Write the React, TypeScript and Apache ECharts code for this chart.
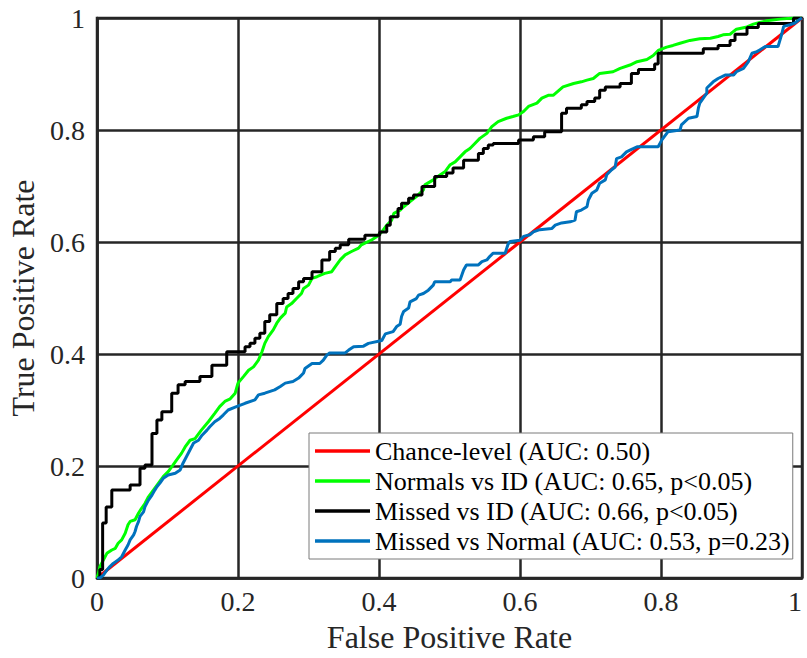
import React, { useEffect, useRef } from "react";
import * as echarts from "echarts";

// ROC curves: [false positive rate, true positive rate]
const chanceLevel: number[][] = [
  [0, 0],
  [1, 1],
];

const normalsVsId: number[][] = [
  [0, 0], [0.002, 0.008], [0.004, 0.02], [0.014, 0.044], [0.021, 0.05], [0.026, 0.053],
  [0.03, 0.062], [0.035, 0.068], [0.04, 0.08], [0.044, 0.095], [0.047, 0.101], [0.054, 0.104],
  [0.059, 0.116], [0.063, 0.124], [0.068, 0.133], [0.073, 0.145], [0.08, 0.157], [0.087, 0.169],
  [0.094, 0.181], [0.101, 0.19], [0.108, 0.202], [0.113, 0.211], [0.12, 0.223], [0.125, 0.234],
  [0.132, 0.246], [0.139, 0.249], [0.148, 0.264], [0.158, 0.279], [0.167, 0.294], [0.174, 0.306],
  [0.182, 0.316], [0.189, 0.32], [0.196, 0.33], [0.2, 0.348], [0.208, 0.36], [0.215, 0.371],
  [0.222, 0.377], [0.229, 0.389], [0.234, 0.404], [0.238, 0.419], [0.243, 0.431], [0.25, 0.443],
  [0.255, 0.455], [0.26, 0.464], [0.267, 0.473], [0.269, 0.484], [0.276, 0.49], [0.283, 0.499],
  [0.29, 0.508], [0.293, 0.517], [0.3, 0.523], [0.305, 0.535], [0.312, 0.538], [0.323, 0.544],
  [0.333, 0.547], [0.338, 0.556], [0.345, 0.568], [0.352, 0.577], [0.361, 0.583], [0.371, 0.589],
  [0.375, 0.595], [0.38, 0.598], [0.39, 0.604], [0.397, 0.61], [0.404, 0.618], [0.411, 0.63],
  [0.418, 0.639], [0.421, 0.651], [0.43, 0.657], [0.435, 0.663], [0.444, 0.672], [0.453, 0.681],
  [0.463, 0.693], [0.465, 0.702], [0.477, 0.711], [0.487, 0.72], [0.494, 0.726], [0.501, 0.738],
  [0.508, 0.743], [0.515, 0.752], [0.522, 0.761], [0.529, 0.767], [0.536, 0.776], [0.543, 0.785],
  [0.553, 0.794], [0.56, 0.806], [0.569, 0.815], [0.581, 0.821], [0.59, 0.824], [0.598, 0.827],
  [0.605, 0.833], [0.612, 0.842], [0.624, 0.848], [0.631, 0.857], [0.64, 0.862], [0.647, 0.862],
  [0.661, 0.877], [0.676, 0.883], [0.687, 0.886], [0.695, 0.889], [0.704, 0.892], [0.713, 0.901],
  [0.732, 0.904], [0.742, 0.91], [0.756, 0.916], [0.766, 0.922], [0.78, 0.926], [0.789, 0.933],
  [0.796, 0.942], [0.808, 0.948], [0.817, 0.951], [0.827, 0.955], [0.841, 0.96], [0.855, 0.963],
  [0.87, 0.964], [0.881, 0.967], [0.888, 0.97], [0.898, 0.971], [0.907, 0.98], [0.922, 0.984],
  [0.931, 0.989], [0.94, 0.992], [0.95, 0.995], [0.969, 0.998], [0.988, 1], [1, 1],
];

const missedVsId: number[][] = [
  [0, 0], [0.004, 0], [0.004, 0.015], [0.008, 0.015], [0.008, 0.098], [0.013, 0.098],
  [0.013, 0.127], [0.021, 0.127], [0.021, 0.157], [0.047, 0.157], [0.047, 0.166], [0.061, 0.166],
  [0.061, 0.196], [0.068, 0.196], [0.068, 0.202], [0.078, 0.202], [0.078, 0.258], [0.085, 0.258],
  [0.085, 0.282], [0.092, 0.282], [0.092, 0.297], [0.106, 0.297], [0.106, 0.33], [0.115, 0.33],
  [0.115, 0.345], [0.125, 0.345], [0.125, 0.351], [0.146, 0.351], [0.146, 0.36], [0.163, 0.36],
  [0.163, 0.38], [0.184, 0.38], [0.184, 0.404], [0.21, 0.404], [0.21, 0.413], [0.217, 0.413],
  [0.217, 0.419], [0.224, 0.419], [0.224, 0.428], [0.231, 0.428], [0.231, 0.437], [0.238, 0.437],
  [0.238, 0.458], [0.245, 0.458], [0.245, 0.47], [0.255, 0.47], [0.255, 0.49], [0.264, 0.49],
  [0.264, 0.499], [0.271, 0.499], [0.271, 0.508], [0.278, 0.508], [0.278, 0.517], [0.286, 0.517],
  [0.286, 0.529], [0.293, 0.529], [0.293, 0.535], [0.305, 0.535], [0.305, 0.547], [0.319, 0.547],
  [0.319, 0.568], [0.33, 0.568], [0.33, 0.583], [0.338, 0.583], [0.338, 0.589], [0.345, 0.589],
  [0.345, 0.595], [0.357, 0.595], [0.357, 0.605], [0.38, 0.605], [0.38, 0.612], [0.401, 0.612],
  [0.401, 0.618], [0.411, 0.618], [0.411, 0.63], [0.416, 0.63], [0.416, 0.645], [0.427, 0.645],
  [0.427, 0.66], [0.432, 0.66], [0.432, 0.669], [0.442, 0.669], [0.442, 0.678], [0.449, 0.678],
  [0.449, 0.684], [0.461, 0.684], [0.461, 0.699], [0.479, 0.699], [0.479, 0.717], [0.496, 0.717],
  [0.496, 0.723], [0.505, 0.723], [0.505, 0.732], [0.52, 0.732], [0.52, 0.746], [0.541, 0.746],
  [0.541, 0.758], [0.548, 0.758], [0.548, 0.767], [0.555, 0.767], [0.555, 0.773], [0.562, 0.773],
  [0.562, 0.776], [0.598, 0.776], [0.598, 0.782], [0.619, 0.782], [0.619, 0.788], [0.635, 0.788],
  [0.635, 0.797], [0.659, 0.797], [0.659, 0.83], [0.666, 0.83], [0.666, 0.839], [0.687, 0.839],
  [0.687, 0.845], [0.695, 0.845], [0.695, 0.851], [0.706, 0.851], [0.706, 0.857], [0.713, 0.857],
  [0.713, 0.871], [0.721, 0.871], [0.721, 0.877], [0.742, 0.877], [0.742, 0.883], [0.758, 0.883],
  [0.758, 0.901], [0.768, 0.901], [0.768, 0.908], [0.791, 0.908], [0.791, 0.918], [0.796, 0.918],
  [0.796, 0.937], [0.86, 0.937], [0.86, 0.945], [0.881, 0.945], [0.881, 0.951], [0.898, 0.951],
  [0.898, 0.96], [0.905, 0.96], [0.905, 0.971], [0.922, 0.971], [0.922, 0.983], [0.938, 0.983],
  [0.938, 0.99], [0.988, 0.99], [0.988, 1], [1, 1],
];

const missedVsNormal: number[][] = [
  [0, 0], [0.004, 0], [0.009, 0.005], [0.014, 0.014], [0.018, 0.02], [0.023, 0.026],
  [0.03, 0.032], [0.035, 0.038], [0.04, 0.05], [0.044, 0.059], [0.047, 0.068], [0.052, 0.077],
  [0.054, 0.083], [0.056, 0.092], [0.059, 0.101], [0.061, 0.11], [0.066, 0.118], [0.068, 0.127],
  [0.073, 0.139], [0.078, 0.148], [0.082, 0.157], [0.085, 0.163], [0.089, 0.169], [0.094, 0.178],
  [0.101, 0.184], [0.111, 0.187], [0.118, 0.193], [0.122, 0.205], [0.127, 0.217], [0.132, 0.229],
  [0.137, 0.241], [0.144, 0.246], [0.149, 0.255], [0.156, 0.264], [0.16, 0.27], [0.167, 0.279],
  [0.174, 0.285], [0.179, 0.291], [0.186, 0.3], [0.196, 0.305], [0.21, 0.312], [0.224, 0.318],
  [0.229, 0.327], [0.238, 0.33], [0.252, 0.336], [0.26, 0.342], [0.267, 0.348], [0.278, 0.351],
  [0.286, 0.357], [0.293, 0.366], [0.295, 0.374], [0.305, 0.383], [0.316, 0.383], [0.321, 0.389],
  [0.326, 0.398], [0.33, 0.402], [0.352, 0.402], [0.357, 0.407], [0.364, 0.413], [0.378, 0.414],
  [0.385, 0.419], [0.404, 0.424], [0.409, 0.436], [0.42, 0.44], [0.425, 0.449], [0.43, 0.453],
  [0.432, 0.467], [0.435, 0.476], [0.442, 0.482], [0.444, 0.493], [0.453, 0.499], [0.456, 0.505],
  [0.463, 0.508], [0.47, 0.514], [0.477, 0.523], [0.479, 0.529], [0.501, 0.529], [0.503, 0.532],
  [0.515, 0.532], [0.52, 0.55], [0.524, 0.559], [0.541, 0.559], [0.546, 0.565], [0.553, 0.568],
  [0.557, 0.574], [0.562, 0.58], [0.579, 0.58], [0.583, 0.596], [0.586, 0.601], [0.6, 0.603],
  [0.605, 0.61], [0.614, 0.613], [0.619, 0.618], [0.628, 0.622], [0.645, 0.624], [0.65, 0.63],
  [0.659, 0.634], [0.671, 0.636], [0.678, 0.639], [0.68, 0.654], [0.687, 0.657], [0.695, 0.663],
  [0.697, 0.675], [0.702, 0.687], [0.709, 0.693], [0.713, 0.705], [0.721, 0.711], [0.723, 0.72],
  [0.73, 0.729], [0.735, 0.734], [0.737, 0.749], [0.744, 0.752], [0.751, 0.761], [0.756, 0.764],
  [0.766, 0.77], [0.796, 0.77], [0.801, 0.782], [0.81, 0.797], [0.827, 0.8], [0.829, 0.809],
  [0.839, 0.821], [0.851, 0.824], [0.853, 0.839], [0.855, 0.848], [0.86, 0.857], [0.865, 0.866],
  [0.865, 0.875], [0.874, 0.886], [0.881, 0.892], [0.891, 0.898], [0.903, 0.898], [0.907, 0.904],
  [0.917, 0.91], [0.924, 0.922], [0.929, 0.937], [0.936, 0.94], [0.94, 0.943], [0.948, 0.949],
  [0.966, 0.949], [0.971, 0.97], [0.974, 0.985], [0.983, 0.988], [0.99, 0.991], [0.995, 0.996],
  [1, 1],
];

const seriesNames = [
  "Chance-level (AUC: 0.50)",
  "Normals vs ID (AUC: 0.65, p<0.05)",
  "Missed vs ID (AUC: 0.66, p<0.05)",
  "Missed vs Normal (AUC: 0.53, p=0.23)",
];
const seriesColors = ["#ff0000", "#00ff00", "#000000", "#0072bd"];
const seriesData = [chanceLevel, normalsVsId, missedVsId, missedVsNormal];

const axisTicks = [0, 0.2, 0.4, 0.6, 0.8, 1];
const xAxisTitle = "False Positive Rate";
const yAxisTitle = "True Positive Rate";

const FONT = "'Liberation Serif', 'Times New Roman', serif";
const INK = "#262626";

const formatTick = (v: number) => {
  const nearest = axisTicks.reduce((a, b) => (Math.abs(b - v) < Math.abs(a - v) ? b : a));
  return nearest === 0 || nearest === 1 ? String(nearest) : nearest.toFixed(1);
};

export default function App() {
  const ref = useRef<HTMLDivElement>(null);

  useEffect(() => {
    if (!ref.current) return;
    const chart = echarts.init(ref.current, null, { renderer: "svg" });

    const axisCommon = {
      type: "value" as const,
      min: 0,
      max: 1,
      interval: 0.2,
      axisLine: { show: true, lineStyle: { color: INK, width: 2.5 } },
      axisTick: { show: false },
      splitLine: { show: true, lineStyle: { color: INK, width: 2.5 } },
      axisLabel: {
        color: INK,
        fontFamily: FONT,
        fontSize: 28,
        formatter: formatTick,
      },
      nameLocation: "middle" as const,
      nameTextStyle: { color: INK, fontFamily: FONT, fontSize: 32 },
    };

    chart.setOption({
      animation: false,
      backgroundColor: "#ffffff",
      grid: {
        left: 97,
        top: 18,
        width: 705,
        height: 560,
        containLabel: false,
        outerBoundsMode: "none",
        show: true,
        borderColor: INK,
        borderWidth: 2.5,
        backgroundColor: "#ffffff",
      },
      xAxis: {
        ...axisCommon,
        name: xAxisTitle,
        nameGap: 43,
        axisLabel: { ...axisCommon.axisLabel, margin: 9, alignMaxLabel: "right" },
      },
      yAxis: {
        ...axisCommon,
        name: yAxisTitle,
        nameGap: 51,
        axisLabel: { ...axisCommon.axisLabel, margin: 12 },
      },
      legend: {
        orient: "vertical",
        left: 309,
        top: 433,
        data: seriesNames,
        icon: "rect",
        itemWidth: 55,
        itemHeight: 3.5,
        itemGap: 2,
        padding: [4, 3, 4, 6],
        backgroundColor: "#ffffff",
        borderColor: "#7a7a7a",
        borderWidth: 1,
        borderRadius: 0,
        textStyle: {
          color: "#000000",
          fontFamily: FONT,
          fontSize: 26,
          lineHeight: 28,
        },
      },
      series: seriesData.map((data, i) => ({
        name: seriesNames[i],
        type: "line",
        data,
        showSymbol: false,
        symbol: "none",
        color: seriesColors[i],
        lineStyle: { color: seriesColors[i], width: 3 },
        z: 2 + i,
      })),
    });

    return () => chart.dispose();
  }, []);

  return (
    <div
      ref={ref}
      style={{ position: "fixed", left: 0, top: 0, width: 807, height: 658, background: "#fff" }}
    />
  );
}
